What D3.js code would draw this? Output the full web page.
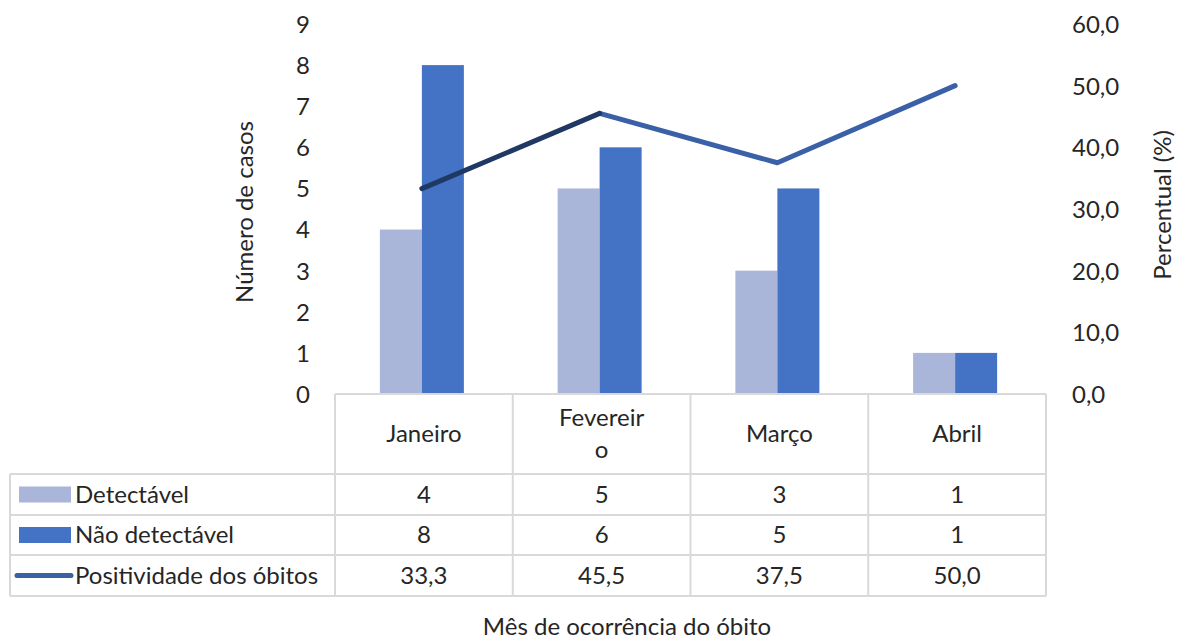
<!DOCTYPE html>
<html><head><meta charset="utf-8">
<script src="https://cdn.jsdelivr.net/npm/d3@7"></script>
<style>body{margin:0;background:#fff}svg{display:block}text{font-family:Lato,"Open Sans",sans-serif;fill:#262626}</style>
</head><body><svg id="c" width="1177" height="639"></svg>
<script>
const categories = ["Janeiro", "Fevereiro", "Março", "Abril"];
const headerLines = [["Janeiro"], ["Fevereir", "o"], ["Março"], ["Abril"]];
const detectavel = [4, 5, 3, 1];
const naoDetectavel = [8, 6, 5, 1];
const positividade = [33.3, 45.5, 37.5, 50.0];
const positividadeLabels = ["33,3", "45,5", "37,5", "50,0"];
const leftTicks = [0,1,2,3,4,5,6,7,8,9];
const rightTicks = [0,10,20,30,40,50,60];

const svg = d3.select("#c");
const x0 = 335, x1 = 1046, yTop = 24, yBot = 394;
const x = d3.scaleBand().domain(categories).range([x0, x1]);
const yL = d3.scaleLinear().domain([0, 9]).range([yBot, yTop]);
const yR = d3.scaleLinear().domain([0, 60]).range([yBot, yTop]);
const barW = 42;
const cLight = "#A9B6DA", cDark = "#4472C4", cLine = "#3A60A8", cLineDark = "#203864";
const grid = "#D9D9D9";
const fs = 24;

// left axis
const gl = svg.append("g").attr("transform", `translate(310,0)`)
  .call(d3.axisLeft(yL).tickValues(leftTicks).tickSize(0).tickPadding(0).tickFormat(d3.format("d")));
gl.select(".domain").remove();
gl.selectAll("text").attr("font-size", fs).attr("dy", "0.35em").style("font-family","Lato,sans-serif").attr("fill","#262626");

// right axis
const gr = svg.append("g").attr("transform", `translate(1072,0)`)
  .call(d3.axisRight(yR).tickValues(rightTicks).tickSize(0).tickPadding(0).tickFormat(d => d3.format(".1f")(d).replace(".", ",")));
gr.select(".domain").remove();
gr.selectAll("text").attr("font-size", fs).attr("dy", "0.35em").style("font-family","Lato,sans-serif").attr("fill","#262626");

// axis titles
svg.append("text").attr("transform", "translate(253,212) rotate(-90)").attr("text-anchor","middle").attr("font-size", fs).text("Número de casos");
svg.append("text").attr("transform", "translate(1171,205) rotate(-90)").attr("text-anchor","middle").attr("font-size", fs).text("Percentual (%)");

// bars
categories.forEach((c, i) => {
  const cx = x(c) + x.bandwidth() / 2 - 2;
  svg.append("rect").attr("x", cx - barW).attr("width", barW)
    .attr("y", yL(detectavel[i])).attr("height", yL(0) - yL(detectavel[i])).attr("fill", cLight);
  svg.append("rect").attr("x", cx).attr("width", barW)
    .attr("y", yL(naoDetectavel[i])).attr("height", yL(0) - yL(naoDetectavel[i])).attr("fill", cDark);
});

// line (segments)
const pts = categories.map((c, i) => [x(c) + x.bandwidth() / 2 - 2, yR(positividade[i])]);
const line = d3.line();
svg.append("path").attr("d", line(pts.slice(1))).attr("fill","none").attr("stroke", cLine).attr("stroke-width", 5).attr("stroke-linejoin","round").attr("stroke-linecap","round");
svg.append("path").attr("d", line(pts.slice(0,2))).attr("fill","none").attr("stroke", cLineDark).attr("stroke-width", 5).attr("stroke-linecap","round");

// data table
const rowY = [394, 474, 515, 555, 596];
const tLeft = 10;
const tg = svg.append("g");
tg.append("line").attr("x1", x0).attr("x2", x1).attr("y1", rowY[0]).attr("y2", rowY[0]).attr("stroke", grid).attr("stroke-width", 2);
for (let r = 1; r < rowY.length; r++) {
  tg.append("line").attr("x1", tLeft).attr("x2", x1).attr("y1", rowY[r]).attr("y2", rowY[r]).attr("stroke", grid).attr("stroke-width", 2);
}
tg.append("line").attr("x1", tLeft).attr("x2", tLeft).attr("y1", rowY[1]).attr("y2", rowY[4]).attr("stroke", grid).attr("stroke-width", 2);
categories.forEach(c => {
  tg.append("line").attr("x1", x(c)).attr("x2", x(c)).attr("y1", rowY[0]).attr("y2", rowY[4]).attr("stroke", grid).attr("stroke-width", 2);
});
tg.append("line").attr("x1", x1).attr("x2", x1).attr("y1", rowY[0]).attr("y2", rowY[4]).attr("stroke", grid).attr("stroke-width", 2);

// header
categories.forEach((c, i) => {
  const cx = x(c) + x.bandwidth() / 2;
  const lines = headerLines[i];
  const mid = (rowY[0] + rowY[1]) / 2;
  lines.forEach((t, k) => {
    const yy = mid + (k - (lines.length - 1) / 2) * 32;
    tg.append("text").attr("x", cx).attr("y", yy).attr("dy","0.35em").attr("text-anchor","middle").attr("font-size", fs).text(t);
  });
});

const rows = [
  {name: "Detectável", vals: detectavel.map(String), kind: "rect", color: cLight},
  {name: "Não detectável", vals: naoDetectavel.map(String), kind: "rect", color: cDark},
  {name: "Positividade dos óbitos", vals: positividadeLabels, kind: "line", color: cLine}
];
rows.forEach((r, ri) => {
  const cy = (rowY[ri + 1] + rowY[ri + 2]) / 2;
  if (r.kind === "rect") tg.append("rect").attr("x", 19).attr("y", cy - 8).attr("width", 52).attr("height", 16).attr("fill", r.color);
  else tg.append("line").attr("x1", 17).attr("x2", 71).attr("y1", cy).attr("y2", cy).attr("stroke", r.color).attr("stroke-width", 5).attr("stroke-linecap","round");
  tg.append("text").attr("x", 75).attr("y", cy).attr("dy","0.35em").attr("font-size", fs).text(r.name);
  categories.forEach((c, i) => {
    tg.append("text").attr("x", x(c) + x.bandwidth() / 2).attr("y", cy).attr("dy","0.35em").attr("text-anchor","middle").attr("font-size", fs).text(r.vals[i]);
  });
});

svg.append("text").attr("x", 627).attr("y", 627).attr("dy","0.35em").attr("text-anchor","middle").attr("font-size", fs).text("Mês de ocorrência do óbito");
</script></body></html>
